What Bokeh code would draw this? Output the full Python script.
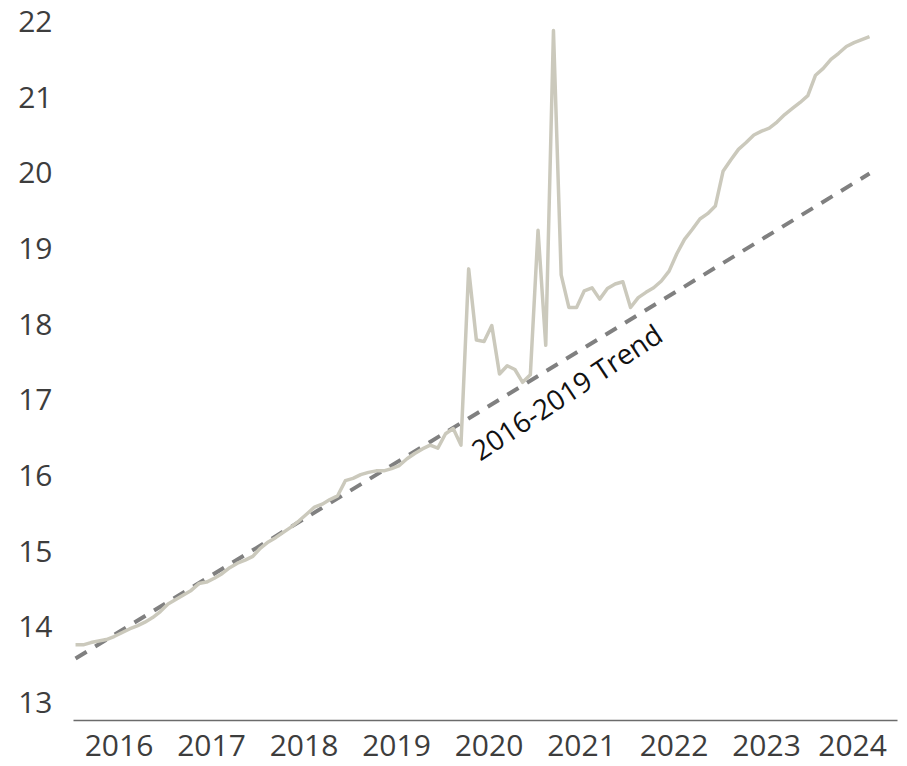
import pandas as pd
from bokeh.plotting import figure
from bokeh.models import FixedTicker, Range1d, Label
from bokeh.embed import file_html
from bokeh.resources import INLINE

# Monthly values, Jan 2016 - Aug 2024
income = [
    13.76, 13.76, 13.79, 13.81, 13.83, 13.87, 13.92, 13.97, 14.01, 14.06, 14.12, 14.20,
    14.30, 14.36, 14.42, 14.48, 14.57, 14.59, 14.64, 14.70, 14.78, 14.84, 14.88, 14.93,
    15.04, 15.12, 15.18, 15.25, 15.32, 15.40, 15.49, 15.58, 15.62, 15.68, 15.73, 15.93,
    15.96, 16.01, 16.04, 16.06, 16.06, 16.09, 16.13, 16.22, 16.29, 16.35, 16.40, 16.36,
    16.55, 16.62, 16.40, 18.73, 17.79, 17.77, 17.98, 17.34, 17.45, 17.40, 17.23, 17.33,
    19.24, 17.72, 21.88, 18.65, 18.22, 18.22, 18.44, 18.48, 18.33, 18.47, 18.53, 18.56,
    18.22, 18.35, 18.42, 18.48, 18.57, 18.70, 18.93, 19.12, 19.25, 19.39, 19.46, 19.56,
    20.02, 20.17, 20.31, 20.40, 20.50, 20.55, 20.59, 20.67, 20.77, 20.85, 20.93, 21.02,
    21.29, 21.38, 21.50, 21.58, 21.67, 21.72, 21.76, 21.80,
]
start_month = "2016-01-01"
trend_months = ["2016-01-01", "2024-08-01"]
trend_values = [13.58, 19.99]
trend_label = "2016-2019 Trend"
year_labels = ["2016", "2017", "2018", "2019", "2020", "2021", "2022", "2023", "2024"]
y_ticks = [13, 14, 15, 16, 17, 18, 19, 20, 21, 22]


def frac_year(ts):
    return ts.year + (ts.month - 1) / 12.0


months = pd.date_range(start_month, periods=len(income), freq="MS")
x = [frac_year(m) for m in months]
tx = [frac_year(pd.Timestamp(m)) for m in trend_months]

FONT = "Open Sans"

p = figure(width=899, height=766, output_backend="svg", toolbar_location=None,
           x_range=Range1d(2015.978, 2024.886), y_range=Range1d(12.76, 22.0),
           min_border_left=73, min_border_right=2, min_border_top=21,
           min_border_bottom=46)
p.outline_line_color = None
p.grid.visible = False
p.background_fill_color = "white"
p.border_fill_color = "white"

p.line(tx, trend_values, line_color="#808080", line_width=4, line_dash="13 10")
p.line(x, income, line_color="#cbc9bc", line_width=3.5, line_join="round")

lab = Label(x=2020.31, y=16.30, text=trend_label, angle=33.5, angle_units="deg",
            text_font=FONT, text_font_size="28px", text_color="#111111",
            text_align="left", text_baseline="alphabetic")
p.add_layout(lab)

tick_pos = [int(y) + 0.47 for y in year_labels]
tick_pos[-1] = int(year_labels[-1]) + 0.40
p.xaxis.ticker = FixedTicker(ticks=tick_pos)
p.xaxis.major_label_overrides = {t: s for t, s in zip(tick_pos, year_labels)}
p.xaxis.major_tick_line_color = None
p.xaxis.minor_tick_line_color = None
p.xaxis.major_tick_out = 0
p.xaxis.major_label_standoff = 14
p.xaxis.axis_line_color = "#6b6b6b"
p.xaxis.axis_line_width = 1.5
p.xaxis.major_label_text_font = FONT
p.xaxis.major_label_text_font_size = "30px"
p.xaxis.major_label_text_color = "#3d3d3d"

p.yaxis.ticker = FixedTicker(ticks=y_ticks)
p.yaxis.axis_line_color = None
p.yaxis.major_tick_line_color = None
p.yaxis.minor_tick_line_color = None
p.yaxis.major_tick_out = 0
p.yaxis.major_label_standoff = 21
p.yaxis.major_label_text_font = FONT
p.yaxis.major_label_text_font_size = "30px"
p.yaxis.major_label_text_color = "#3d3d3d"

open("out.html", "w").write(file_html(p, INLINE))
